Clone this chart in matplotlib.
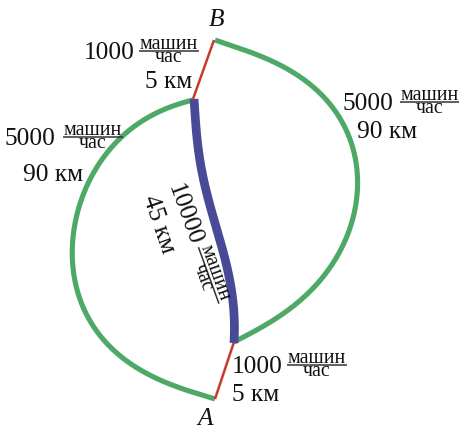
# -*- coding: utf-8 -*-
import numpy as np
import matplotlib
matplotlib.use('Agg')
import matplotlib.pyplot as plt

plt.rcParams['font.family'] = ['Liberation Serif', 'DejaVu Serif']

# road outlines (pixels)
left_road = [(215, 399), (175, 386), (133, 365), (90, 322), (72, 255), (78, 213),
             (97, 167), (133, 127), (193, 100)]
right_road = [(215, 40), (230, 45), (280, 65), (313, 88), (340, 117), (357, 167),
              (357, 203), (343, 243), (313, 287), (280, 317), (234, 342)]
middle_road = [(194, 99), (197, 140), (202, 170), (210, 207), (222, 247), (231, 287), (234, 315), (234, 343)]
top_link = [(214, 40), (193, 99)]
bottom_link = [(234, 342), (215, 399)]

flows = ['1000', '5000', '5000', '1000', '10000']
lengths = ['5 км', '90 км', '90 км', '5 км', '45 км']
unit_top = 'машин'
unit_bottom = 'час'

GREEN = '#4FA966'
BLUE = '#494A97'
RED = '#C63A2A'
INK = '#111111'


def draw_road(ax, pts, color, width, degree=5):
    pts = np.array(pts, dtype=float)
    if len(pts) == 2:
        ax.plot(pts[:, 0], pts[:, 1], color=color, lw=width, solid_capstyle='butt')
        return
    # smooth the hand read points, ends are held with a big weight
    t = np.r_[0, np.cumsum(np.hypot(*np.diff(pts, axis=0).T))]
    t = t / t[-1]
    w = np.ones(len(t))
    w[0] = w[-1] = 20
    tt = np.linspace(0, 1, 300)
    x = np.polyval(np.polyfit(t, pts[:, 0], degree, w=w), tt)
    y = np.polyval(np.polyfit(t, pts[:, 1], degree, w=w), tt)
    ax.plot(x, y, color=color, lw=width, solid_capstyle='butt')


def place(x0, y0, u, v, rot):
    # u along the baseline, v up from it, y of the picture goes down
    r = np.radians(rot)
    return x0 + u * np.cos(r) - v * np.sin(r), y0 - (u * np.sin(r) + v * np.cos(r))


def flow_label(ax, x0, y0, flow, frac_left, rot=0):
    big = 18.3
    small = 14.3
    ax.text(x0, y0, flow, fontsize=big, rotation=rot, rotation_mode='anchor',
            ha='left', va='baseline', color=INK)
    mid = frac_left + 30
    x, y = place(x0, y0, mid, 9.7, rot)
    ax.text(x, y, unit_top, fontsize=small, rotation=rot, rotation_mode='anchor',
            ha='center', va='baseline', color=INK)
    x, y = place(x0, y0, mid, -3, rot)
    ax.text(x, y, unit_bottom, fontsize=small, rotation=rot, rotation_mode='anchor',
            ha='center', va='baseline', color=INK)
    x1, y1 = place(x0, y0, frac_left, 8, rot)
    x2, y2 = place(x0, y0, frac_left + 60, 8, rot)
    ax.plot([x1, x2], [y1, y2], color='#333333', lw=1.1, solid_capstyle='butt')


fig = plt.figure(figsize=(4.6, 4.29), dpi=100)
ax = fig.add_axes([0, 0, 1, 1])
ax.set_xlim(0, 460)
ax.set_ylim(429, 0)
ax.axis('off')

draw_road(ax, left_road, GREEN, 3.7)
draw_road(ax, right_road, GREEN, 3.7)
draw_road(ax, top_link, RED, 1.8)
draw_road(ax, bottom_link, RED, 1.8)
draw_road(ax, middle_road, BLUE, 6.3, degree=5)

flow_label(ax, 84, 59, flows[0], 55)
ax.text(145, 88, lengths[0], fontsize=18.3, ha='left', va='baseline', color=INK)

flow_label(ax, 5, 145, flows[1], 58)
ax.text(23, 181, lengths[1], fontsize=18.3, ha='left', va='baseline', color=INK)

flow_label(ax, 343, 110, flows[2], 57)
ax.text(357, 138, lengths[2], fontsize=18.3, ha='left', va='baseline', color=INK)

flow_label(ax, 232, 373, flows[3], 55)
ax.text(232, 401, lengths[3], fontsize=18.3, ha='left', va='baseline', color=INK)

flow_label(ax, 168, 187, flows[4], 67, rot=-70)
ax.text(143, 198, lengths[4], fontsize=18.3, rotation=-71, rotation_mode='anchor',
        ha='left', va='baseline', color=INK)

ax.text(209, 26, 'B', fontsize=18.3, style='italic', ha='left', va='baseline', color=INK)
ax.text(197, 425, 'A', fontsize=18.3, style='italic', ha='left', va='baseline', color=INK)

fig.savefig('out.png', dpi=100, facecolor='w')
